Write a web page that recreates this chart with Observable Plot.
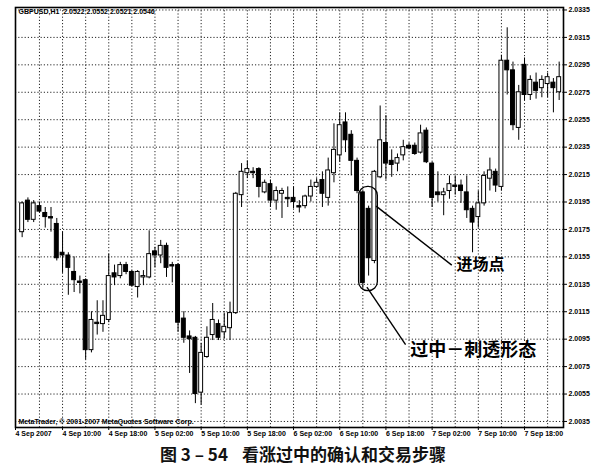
<!DOCTYPE html>
<html>
<head>
<meta charset="utf-8">
<script src="https://cdn.jsdelivr.net/npm/d3@7"></script>
<script src="https://cdn.jsdelivr.net/npm/@observablehq/plot@0.6"></script>
<style>
  html, body { margin: 0; padding: 0; background: #fff; }
  #wrap { width: 612px; height: 473px; overflow: hidden; position: relative; }
  #cap { position: relative; width: 612px; height: 28px; font-family: "Noto Sans CJK SC", sans-serif; font-weight: bold; font-size: 17px; color: #111; }
  #cap span { position: absolute; top: -1px; line-height: 20px; white-space: pre; }
</style>
</head>
<body>
<div id="wrap">
  <div id="chart"></div>
  <div id="cap"><span id="c1" style="left:160px">图 3 – 54</span><span id="c2" style="left:242px">看涨过中的确认和交易步骤</span></div>
</div>
<script>
// GBPUSD H1, first bar = 4 Sep 2007 03:00, one bar per hour
const opens = [
  2.0173, 2.0196, 2.0182, 2.0192, 2.0187, 2.0184, 2.0179, 2.0158, 2.0156, 2.0144,
  2.0137, 2.0138, 2.0087, 2.0107, 2.0106, 2.0109, 2.0143, 2.0141, 2.0149, 2.0144,
  2.0133, 2.0140, 2.0140, 2.0159, 2.0156, 2.0163, 2.0149, 2.0149, 2.0110, 2.0097,
  2.0096, 2.0056, 2.0082, 2.0098, 2.0106, 2.0100, 2.0103, 2.0114, 2.0200, 2.0216,
  2.0217, 2.0219, 2.0202, 2.0208, 2.0196, 2.0201, 2.0198, 2.0198, 2.0192, 2.0192,
  2.0199, 2.0206, 2.0211, 2.0198, 2.0216, 2.0229, 2.0253, 2.0244, 2.0225, 2.0202,
  2.0190, 2.0152, 2.0213, 2.0238, 2.0225, 2.0223, 2.0229, 2.0236, 2.0236, 2.0231,
  2.0247, 2.0223, 2.0202, 2.0200, 2.0203, 2.0207, 2.0207, 2.0202, 2.0190, 2.0184,
  2.0194, 2.0212, 2.0217, 2.0206, 2.0298, 2.0291, 2.0249, 2.0295, 2.0273, 2.0282,
  2.0278, 2.0281, 2.0282, 2.0275
];
const highs = [
  2.0195, 2.0198, 2.0196, 2.0195, 2.0191, 2.0191, 2.0183, 2.0173, 2.0158, 2.0155,
  2.0141, 2.0139, 2.0115, 2.0123, 2.0123, 2.0157, 2.0149, 2.0151, 2.0151, 2.0145,
  2.0145, 2.0145, 2.0174, 2.0162, 2.0167, 2.0165, 2.0151, 2.0150, 2.0115, 2.0101,
  2.0097, 2.0092, 2.0104, 2.0121, 2.0109, 2.0114, 2.0122, 2.0202, 2.0223, 2.0225,
  2.0220, 2.0220, 2.0211, 2.0211, 2.0206, 2.0205, 2.0206, 2.0206, 2.0196, 2.0200,
  2.0211, 2.0212, 2.0217, 2.0227, 2.0252, 2.0260, 2.0260, 2.0247, 2.0227, 2.0203,
  2.0192, 2.0218, 2.0265, 2.0258, 2.0233, 2.0230, 2.0240, 2.0238, 2.0238, 2.0251,
  2.0249, 2.0224, 2.0217, 2.0205, 2.0214, 2.0214, 2.0211, 2.0214, 2.0192, 2.0203,
  2.0217, 2.0227, 2.0219, 2.0302, 2.0322, 2.0297, 2.0280, 2.0300, 2.0287, 2.0289,
  2.0287, 2.0289, 2.0285, 2.0297
];
const lows = [
  2.0169, 2.0180, 2.0180, 2.0187, 2.0176, 2.0173, 2.0152, 2.0143, 2.0127, 2.0129,
  2.0128, 2.0080, 2.0085, 2.0098, 2.0100, 2.0107, 2.0134, 2.0139, 2.0142, 2.0133,
  2.0125, 2.0134, 2.0139, 2.0147, 2.0150, 2.0140, 2.0136, 2.0100, 2.0092, 2.0070,
  2.0048, 2.0047, 2.0081, 2.0094, 2.0094, 2.0095, 2.0094, 2.0113, 2.0191, 2.0212,
  2.0212, 2.0198, 2.0201, 2.0191, 2.0189, 2.0183, 2.0191, 2.0190, 2.0187, 2.0190,
  2.0195, 2.0205, 2.0191, 2.0192, 2.0209, 2.0224, 2.0231, 2.0214, 2.0201, 2.0132,
  2.0141, 2.0150, 2.0212, 2.0211, 2.0213, 2.0217, 2.0225, 2.0233, 2.0229, 2.0230,
  2.0223, 2.0191, 2.0195, 2.0185, 2.0197, 2.0200, 2.0194, 2.0183, 2.0158, 2.0176,
  2.0192, 2.0203, 2.0202, 2.0203, 2.0273, 2.0247, 2.0240, 2.0269, 2.0269, 2.0270,
  2.0271, 2.0271, 2.0260, 2.0269
];
const closes = [
  2.0194, 2.0182, 2.0194, 2.0188, 2.0184, 2.0183, 2.0154, 2.0156, 2.0147, 2.0138,
  2.0136, 2.0087, 2.0109, 2.0106, 2.0112, 2.0141, 2.0140, 2.0149, 2.0144, 2.0134,
  2.0144, 2.0141, 2.0157, 2.0156, 2.0163, 2.0147, 2.0148, 2.0107, 2.0096, 2.0095,
  2.0055, 2.0085, 2.0096, 2.0109, 2.0096, 2.0104, 2.0114, 2.0201, 2.0217, 2.0219,
  2.0216, 2.0206, 2.0209, 2.0196, 2.0203, 2.0203, 2.0197, 2.0195, 2.0191, 2.0199,
  2.0206, 2.0209, 2.0201, 2.0218, 2.0233, 2.0251, 2.0240, 2.0225, 2.0203, 2.0136,
  2.0154, 2.0217, 2.0240, 2.0223, 2.0222, 2.0227, 2.0235, 2.0234, 2.0230, 2.0245,
  2.0224, 2.0198, 2.0200, 2.0202, 2.0208, 2.0206, 2.0203, 2.0189, 2.0180, 2.0194,
  2.0214, 2.0218, 2.0207, 2.0298, 2.0291, 2.0251, 2.0275, 2.0273, 2.0284, 2.0276,
  2.0284, 2.0286, 2.0278, 2.0286
];

// time axis: labelled bars (every 8 hours) and dotted grid bars (every 4 hours)
const timeLabelBars = [7, 15, 23, 31, 39, 47, 55, 63, 71, 79, 87];
const timeLabels = ["4 Sep 10:00", "4 Sep 18:00", "5 Sep 02:00", "5 Sep 10:00", "5 Sep 18:00",
  "6 Sep 02:00", "6 Sep 10:00", "6 Sep 18:00", "7 Sep 02:00", "7 Sep 10:00", "7 Sep 18:00"];
const firstDateLabel = "4 Sep 2007";
const gridBars = [3, 7, 11, 15, 19, 23, 27, 31, 35, 39, 43, 47, 51, 55, 59, 63, 67, 71, 75, 79, 83, 87, 91];
const priceTicks = [2.0035, 2.0055, 2.0075, 2.0095, 2.0115, 2.0135, 2.0155, 2.0175,
  2.0195, 2.0215, 2.0235, 2.0255, 2.0275, 2.0295, 2.0315, 2.0335];

const headerText = "GBPUSD,H1  2.0522 2.0552 2.0521 2.0546";
const copyrightText = "MetaTrader, © 2001-2007 MetaQuotes Software Corp.";

// annotation: piercing pattern candles
const patternBars = [59, 60, 61];
const entryText = "进场点";
const patternText = "过中－刺透形态";

const candles = opens.map((o, i) => ({i, o, h: highs[i], l: lows[i], c: closes[i], up: closes[i] >= o}));

const xDomain = [-1.15, 93.75];
const labelMap = new Map(timeLabelBars.map((b, k) => [b, timeLabels[k]]));
labelMap.set(xDomain[0], firstDateLabel);

const pFirst = patternBars[0], pLast = patternBars[patternBars.length - 1];
const ellipse = [{
  x1: pFirst - 0.65, x2: pLast + 0.6,
  y1: lows[pFirst] - 0.0002, y2: opens[pFirst] + 0.0004
}];
const entryCallout = [{
  x1: pLast + 0.3, y1: opens[pFirst] - 0.0010,
  x2: pLast + 13.4, y2: lows[pFirst] + 0.0017
}];
const patternCallout = [{
  x1: pFirst + 0.7, y1: lows[pFirst] + 0.0001,
  x2: pFirst + 7.4, y2: lows[pFirst] - 0.0041
}];

const sans = "'Liberation Sans', Arial, sans-serif";
const chart = Plot.plot({
  width: 612,
  height: 445,
  marginLeft: 15,
  marginRight: 49,
  marginTop: 7,
  marginBottom: 18,
  x: {domain: xDomain, axis: null},
  y: {domain: [2.00306, 2.03368], axis: null},
  style: {fontFamily: sans, background: "white", color: "black"},
  marks: [
    Plot.gridX(gridBars, {stroke: "#000", strokeOpacity: 0.85, strokeDasharray: "1.2,2", strokeWidth: 1}),
    Plot.gridY(priceTicks, {stroke: "#000", strokeOpacity: 0.85, strokeDasharray: "1.2,2", strokeWidth: 1}),
    Plot.ruleX(candles, {x: "i", y1: "l", y2: "h", stroke: "black", strokeWidth: 1}),
    Plot.rect(candles, {
      x1: d => d.i - 0.34, x2: d => d.i + 0.34, y1: "o", y2: "c",
      fill: d => d.up ? "white" : "black", stroke: "black", strokeWidth: 1
    }),
    Plot.frame({stroke: "black", strokeWidth: 1.6}),
    Plot.axisY({
      anchor: "right", ticks: priceTicks, tickFormat: d => d.toFixed(4),
      tickSize: 3, tickPadding: 2, fontSize: 7, fontWeight: "bold", label: null
    }),
    Plot.axisX({
      anchor: "bottom", ticks: [xDomain[0], ...timeLabelBars], tickFormat: d => labelMap.get(d),
      textAnchor: "start", tickSize: 3, tickPadding: 1, fontSize: 7, fontWeight: "bold", label: null
    }),
    Plot.text([headerText], {frameAnchor: "top-left", dx: 3, dy: 2, fontSize: 7, fontWeight: "bold", textAnchor: "start"}),
    Plot.text([copyrightText], {frameAnchor: "bottom-left", dx: 3, dy: -4, fontSize: 7, fontWeight: "bold", textAnchor: "start"}),
    Plot.rect(ellipse, {x1: "x1", x2: "x2", y1: "y1", y2: "y2", rx: 9, ry: 9, fill: "none", stroke: "black", strokeWidth: 1.3}),
    Plot.link(entryCallout, {x1: "x1", y1: "y1", x2: "x2", y2: "y2", stroke: "black", strokeWidth: 1.4}),
    Plot.link(patternCallout, {x1: "x1", y1: "y1", x2: "x2", y2: "y2", stroke: "black", strokeWidth: 1.4}),
    Plot.text(entryCallout, {x: d => d.x2 + 0.8, y: d => d.y2, text: () => entryText, textAnchor: "start",
      fontFamily: "'Noto Sans CJK SC', sans-serif", fontWeight: "bold", fontSize: 16, fill: "black"}),
    Plot.text(patternCallout, {x: d => d.x2 + 0.8, y: d => d.y2 - 0.0004, text: () => patternText, textAnchor: "start",
      fontFamily: "'Noto Sans CJK SC', sans-serif", fontWeight: "bold", fontSize: 18, fill: "black"})
  ]
});
document.getElementById("chart").appendChild(chart);
</script>
</body>
</html>
